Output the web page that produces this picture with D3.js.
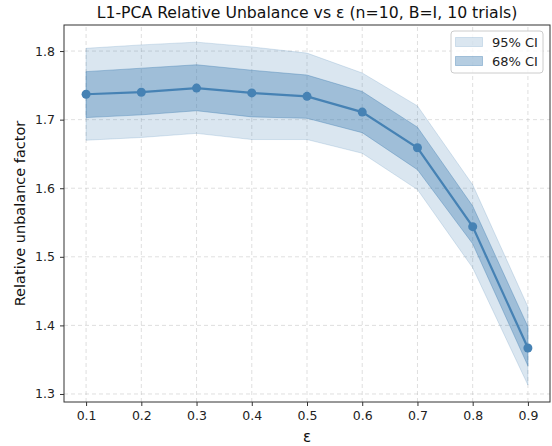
<!DOCTYPE html>
<html>
<head>
<meta charset="utf-8">
<script src="https://cdn.jsdelivr.net/npm/d3@7"></script>
<style>
  body { margin: 0; background: #fff; }
  svg { font-family: "DejaVu Sans", sans-serif; }
</style>
</head>
<body>
<svg id="chart" width="552" height="446"></svg>
<script>
// values
const eps = [0.1, 0.2, 0.3, 0.4, 0.5, 0.6, 0.7, 0.8, 0.9];
const meanVals = [1.737, 1.740, 1.746, 1.739, 1.734, 1.711, 1.659, 1.544, 1.367];
const ci68Lo = [1.703, 1.707, 1.713, 1.704, 1.702, 1.681, 1.627, 1.519, 1.341];
const ci68Hi = [1.770, 1.775, 1.780, 1.772, 1.765, 1.741, 1.689, 1.574, 1.398];
const ci95Lo = [1.670, 1.674, 1.680, 1.671, 1.671, 1.651, 1.598, 1.484, 1.313];
const ci95Hi = [1.804, 1.809, 1.813, 1.806, 1.797, 1.768, 1.720, 1.605, 1.427];
const yTicks = [1.3, 1.4, 1.5, 1.6, 1.7, 1.8];

const color = "steelblue";
const svg = d3.select("#chart");
const margin = {left: 64, right: 2, top: 25, bottom: 44};
const W = 552, H = 446;

const x = d3.scaleLinear().domain([0.06, 0.94]).range([margin.left, W - margin.right]);
const y = d3.scaleLinear().domain([1.2883, 1.838]).range([H - margin.bottom, margin.top]);

const rows = eps.map((e, i) => ({e, m: meanVals[i], l68: ci68Lo[i], h68: ci68Hi[i], l95: ci95Lo[i], h95: ci95Hi[i]}));

// grid
const grid = svg.append("g").attr("stroke", "#b0b0b0").attr("stroke-opacity", 0.5)
  .attr("stroke-dasharray", "4,3").attr("stroke-width", 0.8);
grid.selectAll("line.v").data(eps).join("line")
  .attr("x1", d => x(d)).attr("x2", d => x(d)).attr("y1", y.range()[0]).attr("y2", y.range()[1]);
grid.selectAll("line.h").data(yTicks).join("line")
  .attr("y1", d => y(d)).attr("y2", d => y(d)).attr("x1", x.range()[0]).attr("x2", x.range()[1]);

// bands
const area95 = d3.area().x(d => x(d.e)).y0(d => y(d.l95)).y1(d => y(d.h95));
const area68 = d3.area().x(d => x(d.e)).y0(d => y(d.l68)).y1(d => y(d.h68));
svg.append("path").datum(rows).attr("d", area95)
  .attr("fill", color).attr("fill-opacity", 0.2)
  .attr("stroke", color).attr("stroke-opacity", 0.2).attr("stroke-width", 1);
svg.append("path").datum(rows).attr("d", area68)
  .attr("fill", color).attr("fill-opacity", 0.4)
  .attr("stroke", color).attr("stroke-opacity", 0.4).attr("stroke-width", 1);

// mean line + markers
svg.append("path").datum(rows)
  .attr("d", d3.line().x(d => x(d.e)).y(d => y(d.m)))
  .attr("fill", "none").attr("stroke", color).attr("stroke-width", 2.2);
svg.append("g").selectAll("circle").data(rows).join("circle")
  .attr("cx", d => x(d.e)).attr("cy", d => y(d.m)).attr("r", 4.5).attr("fill", color);

// axes
const xAxis = svg.append("g").attr("transform", `translate(0,${H - margin.bottom})`)
  .call(d3.axisBottom(x).tickValues(eps).tickFormat(d3.format(".1f")).tickSizeOuter(0).tickSize(4).tickPadding(5));
const yAxis = svg.append("g").attr("transform", `translate(${margin.left},0)`)
  .call(d3.axisLeft(y).tickValues(yTicks).tickFormat(d3.format(".1f")).tickSizeOuter(0).tickSize(4).tickPadding(5));
[xAxis, yAxis].forEach(a => {
  a.selectAll("text").attr("font-size", 12.5).attr("fill", "#222").attr("font-family", "DejaVu Sans");
  a.selectAll("line").attr("stroke", "#333");
  a.select(".domain").remove();
});

// frame
svg.append("rect").attr("x", margin.left).attr("y", margin.top)
  .attr("width", W - margin.left - margin.right).attr("height", H - margin.top - margin.bottom)
  .attr("fill", "none").attr("stroke", "#333").attr("stroke-width", 1);

// titles
svg.append("text").attr("x", (margin.left + W - margin.right) / 2).attr("y", 18)
  .attr("text-anchor", "middle").attr("font-size", 15.7).attr("fill", "#111")
  .text("L1-PCA Relative Unbalance vs ε (n=10, B=I, 10 trials)");
svg.append("text").attr("x", (margin.left + W - margin.right) / 2).attr("y", 441.5)
  .attr("text-anchor", "middle").attr("font-size", 15).attr("fill", "#111").text("ε");
svg.append("text").attr("transform", `translate(25,${(margin.top + H - margin.bottom) / 2}) rotate(-90)`)
  .attr("text-anchor", "middle").attr("font-size", 14.5).attr("fill", "#111").text("Relative unbalance factor");

// legend
const lg = svg.append("g").attr("transform", "translate(451,31)");
lg.append("rect").attr("width", 92).attr("height", 42).attr("rx", 3)
  .attr("fill", "#fff").attr("fill-opacity", 0.8).attr("stroke", "#ccc");
const items = [{label: "95% CI", op: 0.2}, {label: "68% CI", op: 0.4}];
items.forEach((it, i) => {
  const g = lg.append("g").attr("transform", `translate(4.5,${6.5 + i * 19})`);
  g.append("rect").attr("width", 27).attr("height", 9)
    .attr("fill", color).attr("fill-opacity", it.op)
    .attr("stroke", color).attr("stroke-opacity", it.op);
  g.append("text").attr("x", 36.5).attr("y", 9.5).attr("font-size", 13).attr("fill", "#222").text(it.label);
});
</script>
</body>
</html>
